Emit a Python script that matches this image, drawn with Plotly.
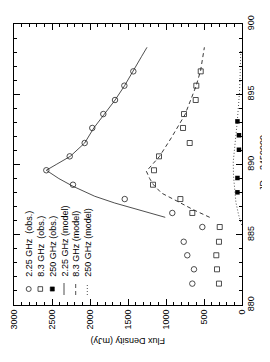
import plotly.graph_objects as go

# ---------------- data ----------------
jd_obs = [881.52, 882.54, 883.54, 884.50, 885.55, 886.55, 887.54, 888.56,
          889.59, 890.58, 891.53, 892.60, 893.59, 894.59, 895.61, 896.63]
flux_225_obs = [654, 632, 720, 767, 522, 917, 1543, 2224,
                2575, 2267, 2070, 1970, 1825, 1671, 1548, 1430]
flux_83_obs = [303, 329, 338, 303, 293, 654, 811, 1171,
               1158, 1092, 688, 776, 763, 609, 601, 543]

jd_250_obs = [888.02, 889.04, 891.05, 892.08, 893.07]
flux_250_obs = [60, 60, 40, 40, 60]

jd_225_model = [886.24, 886.78, 887.26, 887.74, 888.45, 889.00, 889.59, 890.00,
                890.58, 891.53, 892.60, 893.59, 894.59, 895.61, 896.63, 897.70, 898.34]
flux_225_model = [1010, 1368, 1675, 1938, 2224, 2410, 2575, 2445,
                  2260, 2070, 1950, 1810, 1670, 1545, 1430, 1320, 1250]

jd_83_model = [886.24, 886.78, 887.38, 887.97, 888.56, 889.00, 889.52, 890.00,
               890.58, 891.90, 893.55, 895.57, 896.68, 898.34]
flux_83_model = [425, 640, 850, 1060, 1165, 1215, 1258, 1180,
                 1085, 930, 750, 605, 545, 495]

jd_250_model = [885.7, 886.4, 887.3, 888.3, 889.2, 890.2, 891.2, 892.1,
                893.07, 894.1, 895.2, 896.3, 897.4, 898.1]
flux_250_model = [5, 44, 80, 100, 112, 115, 100, 80, 62, 45, 32, 25, 20, 16]

legend_labels = ["2.25 GHz\u00a0\u00a0(obs.)", "8.3 GHz\u00a0\u00a0(obs.)", "250 GHz (obs.)",
                 "2.25 GHz (model)", "8.3 GHz (model)", "250 GHz (model)"]

flux_ticks = [0, 500, 1000, 1500, 2000, 2500, 3000]
jd_ticks = [880, 885, 890, 895, 900]

FONT = "Liberation Sans, Arial, Helvetica, sans-serif"
W, H = 270, 362
L, R, T, B = 6, 36, 16, 65
PW, PH = W - L - R, H - T - B


def px(x):
    return (x - L) / PW


def py(y):
    return (H - B - y) / PH


fig = go.Figure()

line_col = "#222222"
fig.add_trace(go.Scatter(x=flux_225_model, y=jd_225_model, mode="lines",
                         line=dict(color=line_col, width=0.8), showlegend=False))
fig.add_trace(go.Scatter(x=flux_83_model, y=jd_83_model, mode="lines",
                         line=dict(color=line_col, width=0.9, dash="4px,3px"), showlegend=False))
fig.add_trace(go.Scatter(x=flux_250_model, y=jd_250_model, mode="lines",
                         line=dict(color=line_col, width=0.8, dash="1px,2px"), showlegend=False))

fig.add_trace(go.Scatter(x=flux_225_obs, y=jd_obs, mode="markers",
                         marker=dict(symbol="circle-open", size=5.5, color="#222",
                                     line=dict(width=0.8)), showlegend=False))
fig.add_trace(go.Scatter(x=flux_83_obs, y=jd_obs, mode="markers",
                         marker=dict(symbol="square-open", size=5, color="#222",
                                     line=dict(width=0.8)), showlegend=False))
fig.add_trace(go.Scatter(x=flux_250_obs, y=jd_250_obs, mode="markers",
                         marker=dict(symbol="square", size=4.5, color="black",
                                     line=dict(width=0)), showlegend=False))

# ---------------- legend (rotated) ----------------
cols = [20.7, 32.3, 44.3, 56.0, 67.7, 79.3]
sym_y = 281
shapes = []
shapes.append(dict(type="circle", xref="paper", yref="paper",
                   x0=px(cols[0] - 2.5), x1=px(cols[0] + 2.5),
                   y0=py(sym_y + 2.5), y1=py(sym_y - 2.5),
                   line=dict(color="#222", width=0.8)))
shapes.append(dict(type="rect", xref="paper", yref="paper",
                   x0=px(cols[1] - 2.3), x1=px(cols[1] + 2.3),
                   y0=py(sym_y + 2.3), y1=py(sym_y - 2.3),
                   line=dict(color="#222", width=0.8)))
shapes.append(dict(type="rect", xref="paper", yref="paper",
                   x0=px(cols[2] - 2.1), x1=px(cols[2] + 2.1),
                   y0=py(sym_y + 2.1), y1=py(sym_y - 2.1),
                   fillcolor="black", line=dict(color="black", width=0.5)))
for c, d in zip(cols[3:], ["solid", "4px,3px", "1px,2px"]):
    shapes.append(dict(type="line", xref="paper", yref="paper",
                       x0=px(c), x1=px(c), y0=py(287), y1=py(275),
                       line=dict(color=line_col, width=0.8, dash=d)))

annotations = []
for c, lab in zip(cols, legend_labels):
    annotations.append(dict(x=px(c), y=py(271), xref="paper", yref="paper",
                            text=lab, textangle=-90, showarrow=False,
                            xanchor="center", yanchor="bottom",
                            font=dict(family=FONT, size=9, color="black")))

annotations.append(dict(x=px(120), y=py(333), xref="paper", yref="paper",
                        text="Flux Density (mJy)", textangle=180, showarrow=False,
                        xanchor="center", yanchor="middle", borderpad=0,
                        font=dict(family=FONT, size=9, color="black")))
annotations.append(dict(x=px(255), y=py(155), xref="paper", yref="paper",
                        text="JD \u2013 2450000", textangle=-90, showarrow=False,
                        xanchor="center", yanchor="middle", borderpad=0,
                        font=dict(family=FONT, size=9, color="black")))

axis_common = dict(showgrid=False, zeroline=False, showline=True, linecolor="black",
                   linewidth=1, mirror="ticks", ticks="inside", tickcolor="black",
                   ticklen=6, tickwidth=0.8, tickangle=-90, automargin=False,
                   tickfont=dict(family=FONT, size=9, color="black"))

fig.update_layout(
    width=W, height=H,
    margin=dict(l=L, r=R, t=T, b=B, autoexpand=False),
    paper_bgcolor="white", plot_bgcolor="white",
    xaxis=dict(range=[3000, 0], tickvals=flux_ticks,
               ticktext=[str(v) for v in flux_ticks],
               minor=dict(dtick=100, ticks="inside", ticklen=3, tickcolor="black",
                          tickwidth=0.8),
               **axis_common),
    yaxis=dict(range=[880, 900], side="right", tickvals=jd_ticks,
               ticktext=[str(v) for v in jd_ticks],
               minor=dict(dtick=1, ticks="inside", ticklen=3, tickcolor="black",
                          tickwidth=0.8),
               **axis_common),
    shapes=shapes,
    annotations=annotations,
)

fig.write_html("out.html")
